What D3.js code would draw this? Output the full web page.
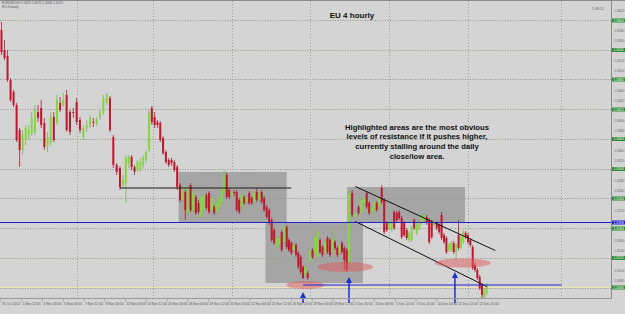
<!DOCTYPE html>
<html><head><meta charset="utf-8">
<script src="https://cdn.jsdelivr.net/npm/d3@7"></script>
<style>html,body{margin:0;padding:0;background:#d4d4d4;}svg{display:block;}</style>
</head><body><div id="chart"></div>
<script>
const open=[1.3581,1.3541,1.3529,1.3481,1.3457,1.3431,1.3381,1.3341,1.3361,1.3371,
1.3375,1.3375,1.3417,1.3425,1.3395,1.3347,1.3355,1.3407,1.3395,1.3435,
1.3431,1.3451,1.3417,1.3417,1.3437,1.3401,1.3367,1.3385,1.3391,1.3397,
1.3395,1.3407,1.3415,1.3435,1.3445,1.3367,1.3311,1.3305,1.3271,1.3275,
1.3315,1.3327,1.3307,1.3301,1.3301,1.3311,1.3321,1.3341,1.3425,1.3407,
1.3397,1.3395,1.3365,1.3337,1.3321,1.3321,1.3317,1.3307,1.3271,1.3241,
1.3257,1.3215,1.3271,1.3221,1.3247,1.3235,1.3207,1.3221,1.3251,1.3255,
1.3221,1.3227,1.3217,1.3227,1.3235,1.3255,1.3291,1.3261,1.3251,1.3257,
1.3257,1.3241,1.3227,1.3247,1.3237,1.3255,1.3245,1.3237,1.3257,1.3241,
1.3257,1.3245,1.3227,1.3221,1.3201,1.3181,1.3147,1.3151,1.3177,1.3157,
1.3187,1.3161,1.3155,1.3141,1.3151,1.3135,1.3127,1.3107,1.3091,1.3095,
1.3117,1.3141,1.3135,1.3127,1.3161,1.3147,1.3137,1.3165,1.3161,1.3137,
1.3157,1.3145,1.3135,1.3155,1.3145,1.3141,1.3115,1.3255,1.3207,1.3227,
1.3215,1.3235,1.3255,1.3235,1.3215,1.3221,1.3235,1.3227,1.3265,1.3241,
1.3195,1.3185,1.3181,1.3217,1.3215,1.3217,1.3205,1.3195,1.3181,1.3161,
1.3161,1.3201,1.3175,1.3185,1.3195,1.3201,1.3207,1.3201,1.3197,1.3191,
1.3195,1.3191,1.3211,1.3171,1.3165,1.3141,1.3141,1.3155,1.3137,1.3171,
1.3147,1.3157,1.3175,1.3171,1.3161,1.3147,1.3111,1.3101,1.3087,1.3071,
1.3047,1.3055];
const high=[1.3597,1.3561,1.3541,1.3485,1.3461,1.3435,1.3385,1.3381,1.3391,1.3391,
1.3417,1.3431,1.3431,1.3441,1.3405,1.3377,1.3417,1.3417,1.3451,1.3447,
1.3455,1.3461,1.3421,1.3425,1.3445,1.3407,1.3391,1.3401,1.3411,1.3405,
1.3407,1.3421,1.3451,1.3455,1.3449,1.3371,1.3315,1.3309,1.3291,1.3331,
1.3331,1.3331,1.3311,1.3321,1.3325,1.3331,1.3341,1.3421,1.3429,1.3417,
1.3401,1.3399,1.3369,1.3341,1.3325,1.3325,1.3321,1.3311,1.3275,1.3271,
1.3261,1.3271,1.3275,1.3261,1.3251,1.3241,1.3251,1.3255,1.3255,1.3259,
1.3249,1.3231,1.3239,1.3249,1.3265,1.3301,1.3297,1.3265,1.3261,1.3261,
1.3261,1.3245,1.3255,1.3251,1.3251,1.3259,1.3249,1.3259,1.3265,1.3259,
1.3261,1.3249,1.3231,1.3225,1.3205,1.3185,1.3169,1.3169,1.3181,1.3191,
1.3191,1.3165,1.3159,1.3155,1.3155,1.3139,1.3131,1.3111,1.3111,1.3099,
1.3145,1.3145,1.3171,1.3181,1.3165,1.3151,1.3161,1.3169,1.3165,1.3181,
1.3161,1.3149,1.3155,1.3159,1.3149,1.3145,1.3261,1.3261,1.3221,1.3231,
1.3245,1.3249,1.3259,1.3239,1.3231,1.3241,1.3239,1.3249,1.3271,1.3245,
1.3199,1.3199,1.3199,1.3221,1.3219,1.3221,1.3209,1.3199,1.3185,1.3179,
1.3191,1.3205,1.3195,1.3201,1.3211,1.3215,1.3211,1.3205,1.3201,1.3201,
1.3199,1.3195,1.3217,1.3175,1.3169,1.3155,1.3159,1.3159,1.3155,1.3201,
1.3171,1.3181,1.3179,1.3175,1.3165,1.3151,1.3115,1.3105,1.3091,1.3075,
1.3065,1.3075];
const low=[1.3531,1.3521,1.3477,1.3437,1.3427,1.3357,1.3307,1.3331,1.3351,1.3361,
1.3369,1.3371,1.3397,1.3385,1.3341,1.3337,1.3349,1.3357,1.3391,1.3417,
1.3427,1.3377,1.3371,1.3405,1.3391,1.3375,1.3361,1.3377,1.3385,1.3387,
1.3389,1.3401,1.3411,1.3431,1.3377,1.3305,1.3291,1.3261,1.3265,1.3235,
1.3305,1.3301,1.3291,1.3297,1.3297,1.3305,1.3315,1.3337,1.3391,1.3385,
1.3385,1.3357,1.3331,1.3313,1.3307,1.3309,1.3297,1.3261,1.3237,1.3237,
1.3201,1.3211,1.3217,1.3217,1.3211,1.3213,1.3203,1.3217,1.3221,1.3213,
1.3217,1.3211,1.3213,1.3223,1.3231,1.3251,1.3243,1.3243,1.3247,1.3249,
1.3217,1.3213,1.3223,1.3231,1.3233,1.3231,1.3231,1.3233,1.3237,1.3237,
1.3233,1.3217,1.3203,1.3191,1.3157,1.3151,1.3143,1.3147,1.3137,1.3153,
1.3143,1.3137,1.3131,1.3137,1.3127,1.3103,1.3093,1.3083,1.3087,1.3081,
1.3113,1.3123,1.3131,1.3123,1.3133,1.3127,1.3133,1.3133,1.3127,1.3133,
1.3141,1.3127,1.3131,1.3133,1.3101,1.3097,1.3111,1.3207,1.3203,1.3211,
1.3211,1.3231,1.3223,1.3211,1.3211,1.3217,1.3217,1.3223,1.3233,1.3173,
1.3177,1.3181,1.3177,1.3181,1.3197,1.3201,1.3163,1.3167,1.3161,1.3157,
1.3157,1.3181,1.3171,1.3181,1.3191,1.3197,1.3191,1.3153,1.3163,1.3187,
1.3181,1.3173,1.3161,1.3153,1.3133,1.3137,1.3137,1.3133,1.3121,1.3141,
1.3143,1.3153,1.3163,1.3153,1.3147,1.3101,1.3097,1.3081,1.3061,1.3045,
1.3045,1.3051];
const close=[1.3537,1.3525,1.3481,1.3441,1.3431,1.3361,1.3341,1.3371,1.3385,1.3381,
1.3405,1.3421,1.3405,1.3391,1.3347,1.3367,1.3407,1.3361,1.3441,1.3421,
1.3441,1.3381,1.3377,1.3415,1.3397,1.3381,1.3385,1.3391,1.3405,1.3395,
1.3401,1.3417,1.3445,1.3451,1.3381,1.3311,1.3297,1.3267,1.3281,1.3325,
1.3327,1.3307,1.3297,1.3317,1.3317,1.3325,1.3337,1.3415,1.3397,1.3391,
1.3391,1.3361,1.3335,1.3317,1.3311,1.3315,1.3301,1.3267,1.3241,1.3265,
1.3221,1.3265,1.3221,1.3255,1.3215,1.3217,1.3247,1.3251,1.3225,1.3217,
1.3245,1.3215,1.3235,1.3245,1.3261,1.3291,1.3247,1.3247,1.3257,1.3255,
1.3221,1.3217,1.3251,1.3235,1.3247,1.3235,1.3235,1.3255,1.3241,1.3255,
1.3237,1.3221,1.3207,1.3195,1.3161,1.3155,1.3165,1.3165,1.3141,1.3187,
1.3147,1.3141,1.3135,1.3151,1.3131,1.3107,1.3097,1.3085,1.3107,1.3085,
1.3141,1.3127,1.3167,1.3177,1.3137,1.3131,1.3157,1.3137,1.3131,1.3165,
1.3145,1.3131,1.3151,1.3137,1.3121,1.3101,1.3255,1.3211,1.3215,1.3215,
1.3241,1.3245,1.3227,1.3215,1.3227,1.3237,1.3221,1.3245,1.3237,1.3177,
1.3181,1.3195,1.3195,1.3185,1.3201,1.3205,1.3167,1.3171,1.3165,1.3175,
1.3187,1.3185,1.3191,1.3197,1.3207,1.3211,1.3195,1.3157,1.3167,1.3197,
1.3185,1.3177,1.3165,1.3157,1.3137,1.3151,1.3155,1.3137,1.3151,1.3145,
1.3167,1.3177,1.3167,1.3157,1.3151,1.3105,1.3101,1.3085,1.3065,1.3051,
1.3061,1.3071];

const timeLabels=["31 Oct 2013","1 Nov 12:00","4 Nov 20:00","6 Nov 04:00","7 Nov 12:00","8 Nov 20:00",
"12 Nov 04:00","13 Nov 12:00","14 Nov 20:00","18 Nov 04:00","19 Nov 12:00","20 Nov 20:00",
"22 Nov 04:00","25 Nov 12:00","26 Nov 20:00","28 Nov 04:00","29 Nov 12:00","2 Dec 20:00",
"4 Dec 04:00","5 Dec 12:00","6 Dec 20:00","10 Dec 04:00","11 Dec 12:00","12 Dec 20:00"];
const levelPrices=[1.3600,1.3541,1.3482,1.3422,1.3363,1.3303,1.3244,1.3184,1.3125,1.3066];
const weekLines=[24,48.3,78.1,110,140.9,172.9,213];
const zoneStart=[57.5,91.5,125.2], zoneEnd=[100,130.5,171.7];
const zoneTop=[1.3297,1.3195,1.3267], zoneBottom=[1.3197,1.3075,1.3195];
const resistanceLine={from:37,to:102,price:1.3265};
const channelUpper=[[128,1.3268],[184.7,1.3140]];
const channelLower=[[128,1.3198],[181,1.3068]];
const blueLevels=[1.3196,1.3071], blueFrom=[-10,107], blueTo=[240,213];
const bidPrice=1.3066;
const ellipseBar=[108,124.3,170.8], ellipsePrice=[1.3071,1.3107,1.3115];
const arrowBar=[107,126,167.5], arrowPrice=[1.3057,1.3087,1.3097];
const noteLines=["Highlighted areas are the most obvious","levels of resistance if it pushes higher,","currently stalling around the daily","close/low area."];

const W=625,H=314,plotRight=611.5,plotBottom=298.5;
const svg=d3.select("#chart").append("svg").attr("width",W).attr("height",H)
 .style("font-family","'Liberation Sans',Arial,sans-serif");
svg.append("rect").attr("width",W).attr("height",H).attr("fill","#d4d4d4");
const N=open.length;
const x=d3.scaleLinear()
 .domain([0,10,20,30,37,47,58,70,80,90,100,110,120,126,130,140,150,160,170,181])
 .range([1.5,31.7,63.3,96.7,120,149,180,211.7,236.7,261.7,286.7,310,335,349,361.7,386.7,411.7,436.7,461,486.7]);
const y=d3.scaleLinear().domain([1.3045,1.3637]).range([298,2]);
const tx=d3.scalePoint().domain(timeLabels).range([1,1+20.75*(timeLabels.length-1)]);
svg.append("clipPath").attr("id","pc").append("rect").attr("x",0).attr("y",1).attr("width",plotRight).attr("height",plotBottom-1);
const g=svg.append("g").attr("clip-path","url(#pc)");

g.selectAll("rect.zone").data(zoneStart).join("rect").attr("class","zone")
 .attr("x",d=>x(d)).attr("width",(d,i)=>x(zoneEnd[i])-x(d))
 .attr("y",(d,i)=>y(zoneTop[i])).attr("height",(d,i)=>y(zoneBottom[i])-y(zoneTop[i]))
 .attr("fill","#a5a5a5");
g.selectAll("line.lvl").data(levelPrices).join("line").attr("class","lvl").attr("x1",0).attr("x2",plotRight)
 .attr("y1",d=>Math.round(y(d))+0.5).attr("y2",d=>Math.round(y(d))+0.5)
 .attr("stroke","#8f9c88").attr("stroke-dasharray","1,1.5");
g.selectAll("line.wk").data(weekLines).join("line").attr("class","wk").attr("y1",1).attr("y2",plotBottom)
 .attr("x1",d=>Math.round(x(d))+0.5).attr("x2",d=>Math.round(x(d))+0.5)
 .attr("stroke","#a2a2a2").attr("stroke-dasharray","1,2");
g.append("line").attr("x1",0).attr("x2",plotRight).attr("y1",y(bidPrice)).attr("y2",y(bidPrice))
 .attr("stroke","#eee6b0").attr("stroke-width",1);
const idx=d3.range(N);
const bull=i=>close[i]>=open[i];
g.selectAll("line.wick").data(idx).join("line").attr("class","wick")
 .attr("x1",i=>x(i)).attr("x2",i=>x(i)).attr("y1",i=>y(high[i])).attr("y2",i=>y(low[i]))
 .attr("stroke",i=>bull(i)?"#79b84a":"#b01c2e").attr("stroke-width",0.8);
g.selectAll("rect.body").data(idx).join("rect").attr("class","body")
 .attr("x",i=>x(i)-1).attr("width",2)
 .attr("y",i=>y(Math.max(open[i],close[i])))
 .attr("height",i=>Math.max(0.8,Math.abs(y(open[i])-y(close[i]))))
 .attr("fill",i=>bull(i)?"#86d640":"#c0182f");
g.append("line").attr("x1",x(resistanceLine.from)).attr("x2",x(resistanceLine.to))
 .attr("y1",y(resistanceLine.price)).attr("y2",y(resistanceLine.price)).attr("stroke","#1a1a1a");
[channelUpper,channelLower].forEach(c=>g.append("line").attr("x1",x(c[0][0])).attr("y1",y(c[0][1]))
 .attr("x2",x(c[1][0])).attr("y2",y(c[1][1])).attr("stroke","#111").attr("stroke-width",1));
blueLevels.forEach((p,i)=>svg.append("line").attr("x1",Math.max(0,x(blueFrom[i]))).attr("x2",Math.min(W,x(blueTo[i])))
 .attr("y1",y(p)).attr("y2",y(p)).attr("stroke","#2222cc").attr("stroke-width",1.2));
const ell=[[19,4],[28,5],[28,4.5]];
g.selectAll("ellipse").data(ellipseBar).join("ellipse")
 .attr("cx",d=>x(d)).attr("cy",(d,i)=>y(ellipsePrice[i])).attr("rx",(d,i)=>ell[i][0]).attr("ry",(d,i)=>ell[i][1])
 .attr("fill","#e05a5a").attr("opacity",0.5);
arrowBar.forEach((b,i)=>{const ax=x(b),ty=y(arrowPrice[i]);
 svg.append("line").attr("x1",ax).attr("x2",ax).attr("y1",ty+4).attr("y2",303).attr("stroke","#1a2fd8").attr("stroke-width",1.5);
 svg.append("path").attr("d",`M${ax},${ty}L${ax-3},${ty+6}L${ax+3},${ty+6}Z`).attr("fill","#1a2fd8");});
svg.append("line").attr("x1",0).attr("x2",W).attr("y1",0.5).attr("y2",0.5).attr("stroke","#8a8a8a");
svg.append("line").attr("x1",plotRight).attr("x2",plotRight).attr("y1",0).attr("y2",plotBottom).attr("stroke","#8a8a8a");
svg.append("line").attr("x1",0).attr("x2",plotRight).attr("y1",plotBottom).attr("y2",plotBottom).attr("stroke","#9a9a9a");
const special=levelPrices.concat([blueLevels[0]]);
const ticks=y.ticks(28).filter(t=>special.every(p=>Math.abs(y(t)-y(p))>4.5));
svg.selectAll("text.pt").data(ticks).join("text").attr("class","pt").attr("x",614).attr("y",d=>y(d)+1.2)
 .attr("font-size",3.4).attr("fill","#666").text(d=>d.toFixed(4));
levelPrices.filter(p=>Math.abs(y(p)-y(blueLevels[0]))>4.5).forEach(p=>{
 svg.append("rect").attr("x",612).attr("y",y(p)-2).attr("width",13).attr("height",4).attr("fill","#2f8a34");
 svg.append("text").attr("x",613.5).attr("y",y(p)+1.2).attr("font-size",3.4).attr("fill","#fff").text(p.toFixed(4));});
svg.append("rect").attr("x",612).attr("y",y(blueLevels[0])-2).attr("width",13).attr("height",4).attr("fill","#2222cc");
svg.append("text").attr("x",613.5).attr("y",y(blueLevels[0])+1.2).attr("font-size",3.4).attr("fill","#fff").text(blueLevels[0].toFixed(4));
timeLabels.forEach(t=>{const px=tx(t);
 svg.append("line").attr("x1",px).attr("x2",px).attr("y1",plotBottom).attr("y2",302).attr("stroke","#888").attr("stroke-width",0.5);
 svg.append("text").attr("x",px+1).attr("y",305).attr("font-size",3.3).attr("fill","#555").text(t);});
svg.append("text").attr("x",352).attr("y",18).attr("text-anchor","middle").attr("font-size",8).attr("font-weight","bold").attr("fill","#111").text("EU 4 hourly");
svg.append("text").attr("x",417).attr("y",129.5).attr("text-anchor","middle").attr("font-size",7.7).attr("font-weight","bold").attr("fill","#111")
 .selectAll("tspan").data(noteLines).join("tspan").attr("x",417).attr("dy",(d,i)=>i?9.7:0).text(d=>d);
svg.append("text").attr("x",2).attr("y",3.5).attr("font-size",3.2).attr("fill","#555").text("EURUSD,H4  1.3071 1.3075 1.3066 1.3071");
svg.append("text").attr("x",2).attr("y",7.5).attr("font-size",3.2).attr("fill","#555").text("EU 4 hourly");
svg.append("text").attr("x",592).attr("y",10).attr("font-size",3.6).attr("fill","#666").text("1:38:12");
</script></body></html>
